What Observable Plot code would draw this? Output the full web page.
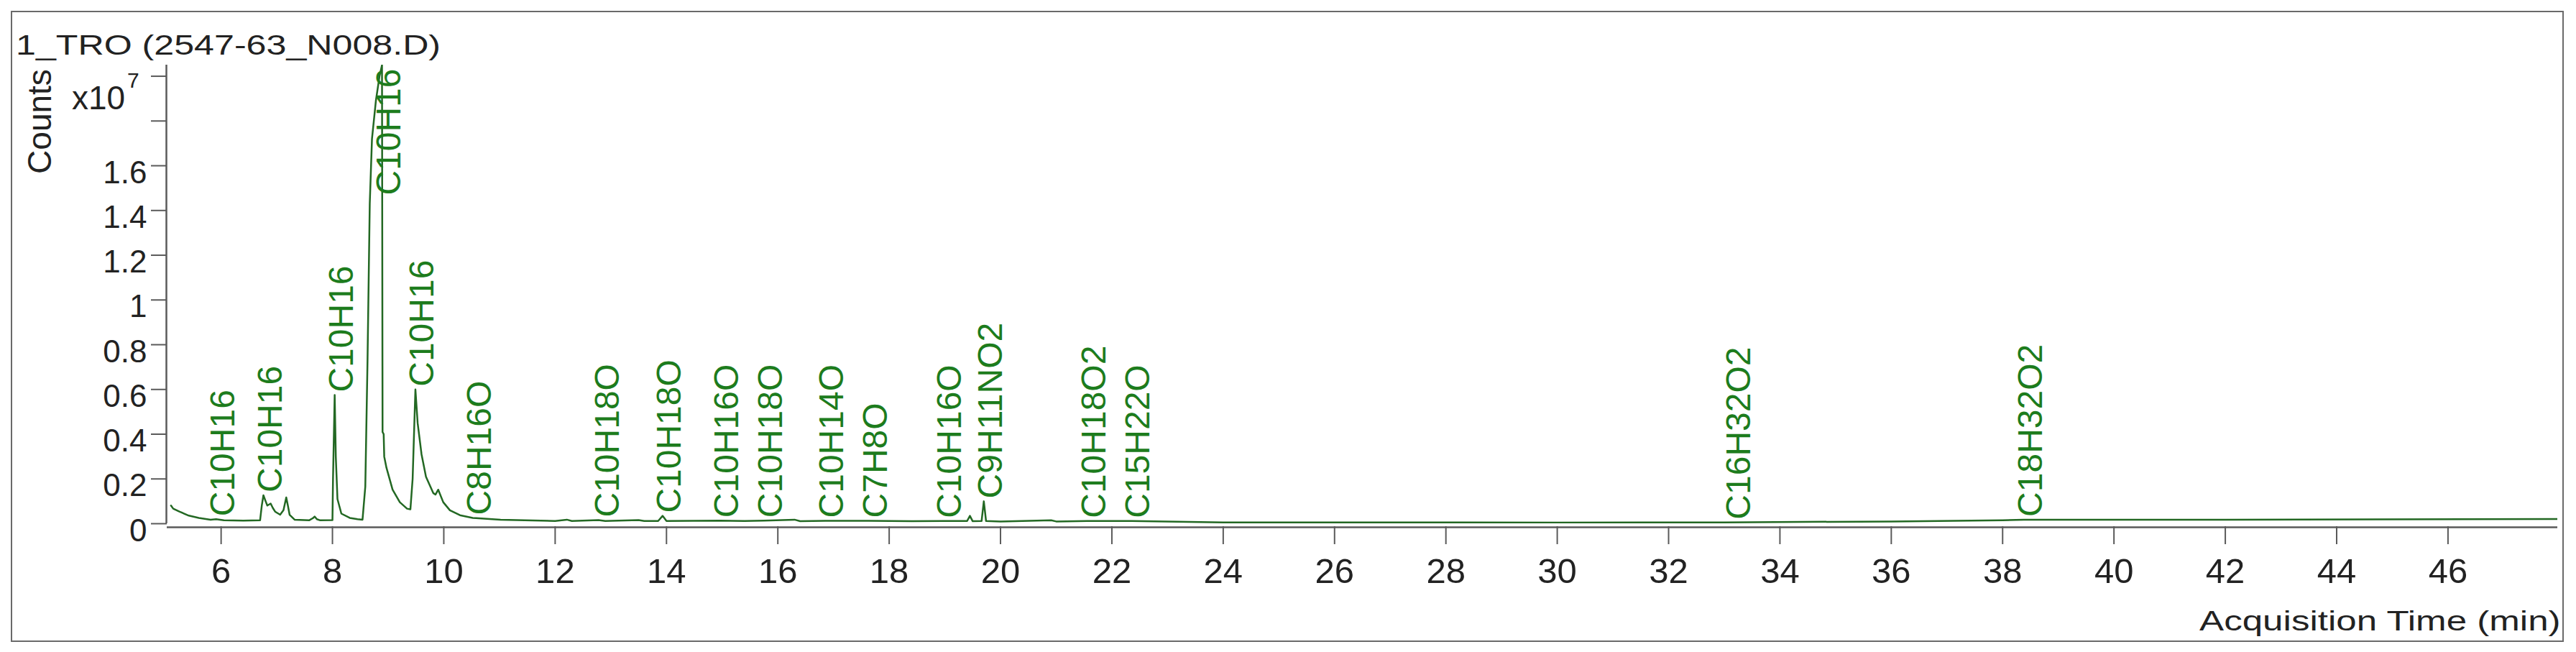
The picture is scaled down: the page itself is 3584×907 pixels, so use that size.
<!DOCTYPE html>
<html>
<head>
<meta charset="utf-8">
<script src="https://cdn.jsdelivr.net/npm/d3@7"></script>
<script src="https://cdn.jsdelivr.net/npm/@observablehq/plot@0.6"></script>
<style>
  html, body { margin: 0; padding: 0; background: #fff; }
  #wrap { position: relative; width: 3584px; height: 907px; overflow: hidden; font-family: "Liberation Sans", Arial, sans-serif; color: #222; }
  #wrap svg { position: absolute; left: 0; top: 0; }
  .ov { position: absolute; white-space: nowrap; line-height: 1; }
  #frame { position: absolute; left: 15px; top: 15px; width: 3552px; height: 878px; border: 2.5px solid #6a6a6a; box-sizing: border-box; }
  #title { left: 22px; top: 44px; font-size: 38px; transform: scaleX(1.32); transform-origin: left center; }
  #xlabel { right: 21px; top: 844px; font-size: 39px; transform: scaleX(1.31); transform-origin: right center; }
  #counts { left: 55px; top: 169px; font-size: 46px; transform: translate(-50%, -50%) rotate(-90deg); }
  #mult { left: 100px; top: 113px; font-size: 46px; }
  #mult7 { left: 177px; top: 97px; font-size: 30px; }
</style>
</head>
<body>
<div id="wrap">
  <div id="chart"></div>
  <div id="frame"></div>
  <div class="ov" id="title">1_TRO (2547-63_N008.D)</div>
  <div class="ov" id="counts">Counts</div>
  <div class="ov" id="mult">x10</div>
  <div class="ov" id="mult7">7</div>
  <div class="ov" id="xlabel">Acquisition Time (min)</div>
</div>
<script>
// Chromatogram trace: retention time (min) and counts (x10^7)
const traceTime = [
  5.10, 5.14, 5.25, 5.42, 5.60, 5.81, 5.91, 6.05, 6.40, 6.70,
  6.73, 6.76, 6.80, 6.83, 6.89, 6.93, 6.97, 7.06, 7.12, 7.17,
  7.20, 7.23, 7.32, 7.58, 7.65, 7.68, 7.72, 7.78, 8.00, 8.01,
  8.04, 8.06, 8.09, 8.16, 8.31, 8.45, 8.54, 8.59, 8.63, 8.67,
  8.71, 8.78, 8.845, 8.89, 8.90, 8.92, 8.93, 8.97, 9.08, 9.21,
  9.34, 9.40, 9.44, 9.49, 9.53, 9.60, 9.68, 9.81, 9.85, 9.90,
  9.99, 10.11, 10.29, 10.52, 10.58, 11.02, 11.45, 12.00, 12.21, 12.30,
  12.78, 12.90, 13.50, 13.60, 13.85, 13.93, 14.00, 14.96, 15.40, 15.75,
  16.30, 16.40, 16.85, 17.63, 18.40, 18.96, 19.40, 19.45, 19.50, 19.66,
  19.70, 19.74, 20.00, 20.91, 21.00, 21.56, 22.35, 24.00, 30.00, 33.00,
  36.00, 38.00, 38.38, 42.00, 47.97
];
const traceCounts = [
  0.081, 0.067, 0.054, 0.036, 0.026, 0.018, 0.020, 0.015, 0.014, 0.015,
  0.080, 0.127, 0.100, 0.081, 0.090, 0.070, 0.054, 0.040, 0.060, 0.117,
  0.080, 0.040, 0.018, 0.015, 0.025, 0.032, 0.020, 0.015, 0.016, 0.200,
  0.575, 0.300, 0.110, 0.045, 0.026, 0.020, 0.018, 0.166, 0.730, 1.430,
  1.720, 1.890, 2.000, 2.050, 0.410, 0.400, 0.300, 0.250, 0.152, 0.096,
  0.067, 0.064, 0.200, 0.600, 0.450, 0.310, 0.210, 0.137, 0.130, 0.152,
  0.096, 0.060, 0.038, 0.026, 0.025, 0.018, 0.015, 0.012, 0.018, 0.012,
  0.016, 0.012, 0.016, 0.012, 0.012, 0.035, 0.012, 0.014, 0.012, 0.014,
  0.018, 0.011, 0.013, 0.013, 0.011, 0.012, 0.012, 0.035, 0.011, 0.012,
  0.100, 0.012, 0.010, 0.015, 0.010, 0.012, 0.012, 0.006, 0.005, 0.006,
  0.010, 0.015, 0.018, 0.018, 0.021
];

// Peak annotations
const peakTime = [5.91, 6.76, 8.04, 8.89, 9.49, 10.52, 12.82, 13.93, 14.96, 15.75, 16.85, 17.63, 18.96, 19.70, 21.56, 22.35, 33.14, 38.38];
const peakLabel = ["C10H16", "C10H16", "C10H16", "C10H16", "C10H16", "C8H16O", "C10H18O", "C10H18O", "C10H16O", "C10H18O", "C10H14O", "C7H8O", "C10H16O", "C9H11NO2", "C10H18O2", "C15H22O", "C16H32O2", "C18H32O2"];
const peakHeight = [0.020, 0.127, 0.575, 2.050, 0.600, 0.026, 0.016, 0.035, 0.014, 0.014, 0.013, 0.013, 0.012, 0.100, 0.012, 0.012, 0.006, 0.018];

// Axes
const xDomain = [5.03, 47.97];
const yDomain = [0, 2.05];
const xTicks = [6, 8, 10, 12, 14, 16, 18, 20, 22, 24, 26, 28, 30, 32, 34, 36, 38, 40, 42, 44, 46];
const yTicks = [0, 0.2, 0.4, 0.6, 0.8, 1, 1.2, 1.4, 1.6, 1.8, 2.0];
const yTickLabels = ["0", "0.2", "0.4", "0.6", "0.8", "1", "1.2", "1.4", "1.6", "", ""];

const trace = traceTime.map((t, i) => ({t, c: traceCounts[i]}));
const peaks = peakTime.map((t, i) => ({t, label: peakLabel[i], h: peakHeight[i]}));
const topPeaks = peaks.filter(d => d.h >= yDomain[1]);
const otherPeaks = peaks.filter(d => d.h < yDomain[1]);

const traceColor = "#236823";
const labelColor = "#1d7c1d";
const axisColor = "#5a5a5a";

const chart = Plot.plot({
  width: 3584,
  height: 907,
  marginLeft: 232,
  marginRight: 26,
  marginTop: 90,
  marginBottom: 179,
  style: {fontFamily: "'Liberation Sans', Arial, sans-serif", color: "#222", background: "transparent"},
  x: {domain: xDomain},
  y: {domain: yDomain},
  marks: [
    Plot.axisX({ticks: xTicks, tickSize: 25, tickPadding: 19, dy: 4, fontSize: 49, strokeWidth: 2, stroke: axisColor, fill: "#222", label: null}),
    Plot.axisY({ticks: yTicks, tickSize: 22, strokeWidth: 2, stroke: axisColor, tickFormat: () => "", label: null}),
    Plot.axisY({ticks: yTicks, tickSize: 0, tickPadding: 28, dy: 10, fontSize: 44, fill: "#222", tickFormat: (d) => yTickLabels[yTicks.indexOf(d)], label: null}),
    Plot.ruleY([yDomain[0]], {dy: 5, stroke: axisColor, strokeWidth: 2.5}),
    Plot.ruleX([xDomain[0]], {dx: -1, stroke: axisColor, strokeWidth: 2.5}),
    Plot.line(trace, {x: "t", y: "c", stroke: traceColor, strokeWidth: 2.5, clip: true}),
    Plot.text(otherPeaks, {x: "t", y: "h", text: "label", rotate: -90, textAnchor: "start", lineAnchor: "middle", dx: 10, dy: -4, fontSize: 48, fill: labelColor}),
    Plot.text(topPeaks, {x: "t", frameAnchor: "top", text: "label", rotate: -90, textAnchor: "end", lineAnchor: "middle", dx: 10, dy: 5, fontSize: 48, fill: labelColor})
  ]
});
document.getElementById("chart").appendChild(chart);
</script>
</body>
</html>
